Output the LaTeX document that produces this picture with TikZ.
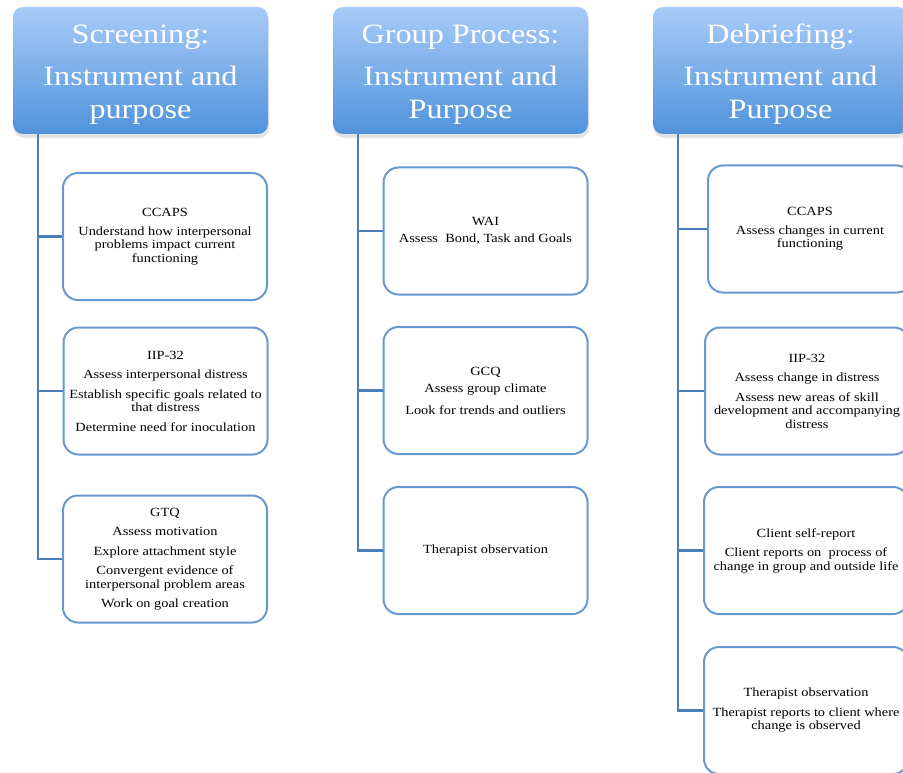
\documentclass[tikz,border=0pt]{standalone}
\usepackage{fontspec}
\setmainfont{Liberation Serif}[FakeStretch=1.15]
\usetikzlibrary{shadows}
\definecolor{hdtop}{RGB}{168,203,248}
\definecolor{hdbot}{RGB}{80,147,220}
\definecolor{conncol}{RGB}{74,126,187}
\definecolor{bord}{RGB}{104,152,210}
\tikzset{
 hdr/.style={rectangle, rounded corners=10pt, minimum width=255pt, minimum height=127pt,
   top color=hdtop, bottom color=hdbot, draw=none, inner sep=0pt,
   drop shadow={opacity=0.22, shadow xshift=1pt, shadow yshift=-4pt}},
 hdtext/.style={text=white, align=center, inner sep=0pt,
   font=\fontsize{28}{33}\selectfont},
 item/.style={rectangle, rounded corners=15pt, draw=bord, line width=2pt,
   minimum width=204pt, minimum height=127pt, align=center,
   font=\fontsize{12.5}{13.5}\selectfont, fill=white, inner sep=0pt},
 link/.style={draw=conncol, line width=2.2pt}
}
\begin{document}
\begin{tikzpicture}[x=1pt,y=-1pt]
\useasboundingbox (0,0) rectangle (903,773);
\begin{scope}
\clip (0,0) rectangle (903,773);
% headers
\node[hdr] (h1) at (140.5,70.5) {};
\node[hdr] (h2) at (460.5,70.5) {};
\node[hdr] (h3) at (780.5,70.5) {};
\node[hdtext] (t1) at ([yshift=-4pt]h1.center) {Screening:\\[9pt]Instrument and\\purpose};
\node[hdtext] (t2) at ([yshift=-4pt]h2.center) {Group Process:\\[9pt]Instrument and\\Purpose};
\node[hdtext] (t3) at ([yshift=-4pt]h3.center) {Debriefing:\\[9pt]Instrument and\\Purpose};
\coordinate (v1) at (38,134);
\coordinate (v2) at (358,134);
\coordinate (v3) at (678,134);
% column 1
\node[item] (a1) at (165,236.5) {CCAPS\\[5pt]Understand how interpersonal\\problems impact current\\functioning};
\node[item] (a2) at (165.5,391) {IIP-32\\[6pt]Assess interpersonal distress\\[6pt]Establish specific goals related to\\that distress\\[6pt]Determine need for inoculation};
\node[item] (a3) at (165,559) {GTQ\\[6pt]Assess motivation\\[6pt]Explore attachment style\\[6pt]Convergent evidence of\\interpersonal problem areas\\[6pt]Work on goal creation};
% column 2
\node[item] (b1) at (485.5,231) {WAI\\[4pt]Assess\ \ Bond, Task and Goals};
\node[item] (b2) at (485.5,390.5) {GCQ\\[4pt]Assess group climate\\[8pt]Look for trends and outliers};
\node[item] (b3) at (485.5,550.5) {Therapist observation};
% column 3
\node[item] (c1) at (810,229) {CCAPS\\[5pt]Assess changes in current\\functioning};
\node[item] (c2) at (807,391) {IIP-32\\[6pt]Assess change in distress\\[6pt]Assess new areas of skill\\development and accompanying\\distress};
\node[item] (c3) at (806,550.5) {Client self-report\\[6pt]Client reports on\ \ process of\\change in group and outside life};
\node[item] (c4) at (806,710.5) {Therapist observation\\[6pt]Therapist reports to client where\\change is observed};
% connectors
\draw[link] (v1) |- (a1.west);
\draw[link] (v1) |- (a2.west);
\draw[link] (v1) |- (a3.west);
\draw[link] (v2) |- (b1.west);
\draw[link] (v2) |- (b2.west);
\draw[link] (v2) |- (b3.west);
\draw[link] (v3) |- (c1.west);
\draw[link] (v3) |- (c2.west);
\draw[link] (v3) |- (c3.west);
\draw[link] (v3) |- (c4.west);
\end{scope}
\end{tikzpicture}
\end{document}
